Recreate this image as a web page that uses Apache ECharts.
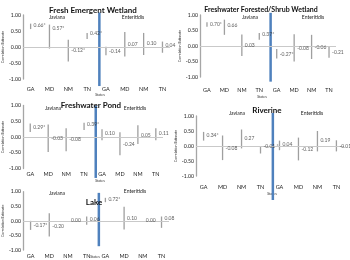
<!DOCTYPE html>
<html>
<head>
<meta charset="utf-8">
<script src="https://cdn.jsdelivr.net/npm/echarts@6/dist/echarts.min.js"></script>
<style>
html, body { margin: 0; padding: 0; background: #fff; }
#chart { width: 350px; height: 260px; }
</style>
</head>
<body>
<div id="chart"></div>
<script>
/* datos: Javiana (GA, MD, NM, TN) y luego Enteritidis (GA, MD, NM, TN) */
const states = ['GA', 'MD', 'NM', 'TN', 'GA', 'MD', 'NM', 'TN'];

const emergent_est = [0.66, 0.57, -0.12, 0.42, -0.14, 0.07, 0.10, 0.04];
const emergent_lo  = [0.56, -0.05, -0.45, 0.25, -0.26, -0.30, -0.25, -0.18];
const emergent_hi  = [0.73, 0.70, 0.23, 0.44, 0.01, 0.47, 0.44, 0.17];
const emergent_lbl = ['0.66*', '0.57*', '-0.12*', '0.42*', '-0.14', '0.07', '0.10', '0.04'];

const forested_est = [0.70, 0.66, 0.03, 0.37, -0.27, -0.08, -0.06, -0.21];
const forested_lo  = [0.62, 0.36, -0.32, 0.20, -0.40, -0.50, -0.42, -0.38];
const forested_hi  = [0.77, 0.85, 0.37, 0.42, -0.10, 0.38, 0.36, -0.02];
const forested_lbl = ['0.70*', '0.66', '0.03', '0.37*', '-0.27*', '-0.08', '-0.06', '-0.21'];

const pond_est = [0.29, -0.03, -0.08, 0.39, 0.10, -0.24, 0.05, 0.11];
const pond_lo  = [0.16, -0.48, -0.45, 0.22, -0.10, -0.58, -0.22, -0.10];
const pond_hi  = [0.43, 0.40, 0.28, 0.45, 0.25, 0.15, 0.37, 0.28];
const pond_lbl = ['0.29*', '-0.03', '-0.08', '0.39*', '0.10', '-0.24', '0.05', '0.11'];

const riverine_est = [0.34, -0.08, 0.27, -0.01, 0.04, -0.12, 0.19, -0.01];
const riverine_lo  = [0.18, -0.47, -0.08, -0.25, -0.14, -0.48, -0.18, -0.18];
const riverine_hi  = [0.47, 0.35, 0.55, -0.01, 0.18, 0.28, 0.50, 0.19];
const riverine_lbl = ['0.34*', '-0.08', '0.27', '-0.01 *', '0.04', '-0.12', '0.19', '-0.01'];

const lake_est = [-0.17, -0.20, 0.00, 0.06, 0.72, 0.10, 0.00, 0.08];
const lake_lo  = [-0.31, -0.54, 0.00, -0.13, 0.64, -0.30, 0.00, -0.24];
const lake_hi  = [0.00, 0.26, 0.00, 0.15, 0.79, 0.48, 0.00, 0.15];
const lake_lbl = ['-0.17*', '-0.20', '0.00', '0.06', '0.72*', '0.10', '0.00', '0.08'];

const separador = 4.65;
const FONT = 'Lato';

/* una entrada por grafica */
const paneles = [
    {titulo: 'Fresh Emergent Wetland', est: emergent_est, lo: emergent_lo, hi: emergent_hi, lbl: emergent_lbl,
     grid: {left: 20, top: 15, width: 150, height: 64}, tit: [88, 1, 8], jav: [57, 17], ent: [133, 17],
     sep: [1.08, -1.22], xm: 7, states: [100, 95]},
    {titulo: 'Freshwater Forested/Shrub Wetland', est: forested_est, lo: forested_lo, hi: forested_hi, lbl: forested_lbl,
     grid: {left: 200, top: 15, width: 136, height: 62}, tit: [256, 1, 7], jav: [250, 17], ent: [313, 17],
     sep: [1.07, -1.15], xm: 10, states: [262, 97]},
    {titulo: 'Freshwater Pond', est: pond_est, lo: pond_lo, hi: pond_hi, lbl: pond_lbl,
     grid: {left: 18, top: 105.5, width: 145, height: 63}, tit: [86, 96, 8], jav: [53, 108], ent: [135, 108],
     sep: [1.0, -1.3], xm: 3, states: [100, 181]},
    {titulo: 'Riverine', est: riverine_est, lo: riverine_lo, hi: riverine_hi, lbl: riverine_lbl,
     grid: {left: 196, top: 116, width: 148, height: 60}, tit: [262, 101, 8], jav: [237, 113], ent: [312, 113],
     sep: [1.1, -1.8], xm: 8, states: [272, 194]},
    {titulo: 'Lake', est: lake_est, lo: lake_lo, hi: lake_hi, lbl: lake_lbl,
     grid: {left: 21, top: 191.7, width: 148, height: 58.3}, tit: [89, 193, 8], jav: [57, 193], ent: [135, 191],
     sep: [0.96, -0.87], xm: 3, states: [95, 257]}
];

const posiciones = [1, 2, 3, 4, 5, 6, 7, 8];

var myChart = echarts.init(document.getElementById('chart'));

var option = {
    animation: false,
    textStyle: {fontFamily: FONT},
    title: [],
    grid: [],
    xAxis: [],
    yAxis: [],
    series: [],
    graphic: []
};

paneles.forEach(function (p, i) {
    option.title.push({
        text: p.titulo, left: p.tit[0], top: p.tit[1], textAlign: 'center',
        textStyle: {fontSize: p.tit[2], fontWeight: 'bold', color: '#111', fontFamily: FONT}
    });
    option.grid.push(p.grid);
    option.xAxis.push({
        gridIndex: i, type: 'value', min: 0.6, max: 8.4,
        axisLine: {show: false, onZero: false},
        axisTick: {show: false},
        splitLine: {show: false},
        axisLabel: {
            customValues: posiciones, margin: p.xm, fontSize: 5.5, color: '#222',
            formatter: function (v) { return states[Math.round(v) - 1] || ''; }
        }
    });
    option.yAxis.push({
        gridIndex: i, type: 'value', min: -1, max: 1, interval: 0.5,
        name: 'Correlation Estimate', nameLocation: 'middle', nameGap: 13,
        nameTextStyle: {fontSize: 3.6, color: '#333'},
        axisLine: {show: true, lineStyle: {color: '#a6a6a6', width: 1.3}},
        axisTick: {show: false},
        splitLine: {show: false},
        axisLabel: {fontSize: 5.2, color: '#222', margin: 2,
            formatter: function (v) { return v.toFixed(2); }}
    });

    // barras de intervalo
    option.series.push({
        type: 'custom', xAxisIndex: i, yAxisIndex: i,
        data: posiciones.map((x, k) => [x, p.lo[k], p.hi[k]]),
        renderItem: function (params, api) {
            const a = api.coord([api.value(0), api.value(1)]);
            const b = api.coord([api.value(0), api.value(2)]);
            return {type: 'line', shape: {x1: a[0], y1: a[1], x2: b[0], y2: b[1]},
                    style: {stroke: '#9f9f9f', lineWidth: 1.3}};
        },
        markLine: {
            silent: true, symbol: 'none', label: {show: false},
            lineStyle: {color: '#c9c9c9', width: 1, type: 'solid'},
            data: [{yAxis: 0}]
        },
        z: 3
    });

    // linea azul que separa Javiana de Enteritidis
    option.series.push({
        type: 'custom', xAxisIndex: i, yAxisIndex: i, clip: false,
        data: [[separador, p.sep[0], p.sep[1]]],
        renderItem: function (params, api) {
            const a = api.coord([api.value(0), api.value(1)]);
            const b = api.coord([api.value(0), api.value(2)]);
            return {type: 'line', shape: {x1: a[0], y1: a[1], x2: b[0], y2: b[1]},
                    style: {stroke: '#4f81bd', lineWidth: 2.5}};
        },
        z: 4
    });

    // etiquetas de los estimados
    option.series.push({
        type: 'scatter', xAxisIndex: i, yAxisIndex: i, symbolSize: 0,
        data: posiciones.map((x, k) => [x, p.est[k], p.lbl[k]]),
        label: {
            show: true, position: 'right', distance: 3, fontSize: 5, color: '#333',
            formatter: function (d) { return d.value[2]; }
        },
        z: 5
    });

    option.graphic.push(
        {type: 'text', x: p.jav[0], y: p.jav[1], style: {text: 'Javiana', fontSize: 5, fill: '#222', fontFamily: FONT, align: 'center', verticalAlign: 'middle'}},
        {type: 'text', x: p.ent[0], y: p.ent[1], style: {text: 'Enteritidis', fontSize: 5, fill: '#222', fontFamily: FONT, align: 'center', verticalAlign: 'middle'}},
        {type: 'text', x: p.states[0], y: p.states[1], style: {text: 'States', fontSize: 3.6, fill: '#333', fontFamily: FONT, align: 'center', verticalAlign: 'middle'}}
    );
});

myChart.setOption(option);
</script>
</body>
</html>
